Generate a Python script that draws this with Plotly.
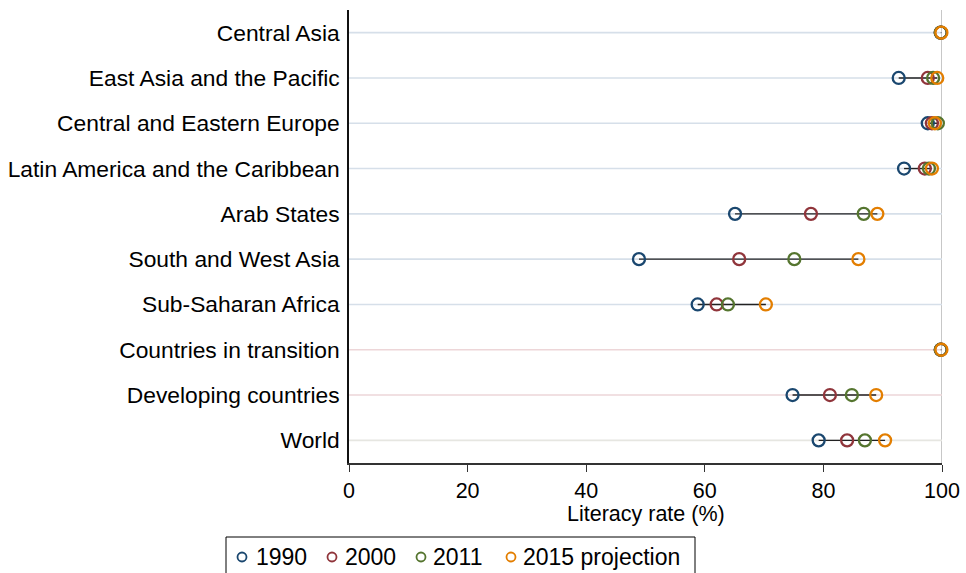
import plotly.graph_objects as go

categories = ["Central Asia", "East Asia and the Pacific", "Central and Eastern Europe",
              "Latin America and the Caribbean", "Arab States", "South and West Asia",
              "Sub-Saharan Africa", "Countries in transition", "Developing countries", "World"]
y1990 = [99.8, 92.7, 97.6, 93.6, 65.1, 48.9, 58.8, 99.8, 74.8, 79.2]
y2000 = [99.8, 97.6, 98.3, 97.1, 77.9, 65.8, 62.0, 99.8, 81.1, 84.0]
y2011 = [99.8, 98.5, 99.3, 97.8, 86.8, 75.1, 63.9, 99.8, 84.8, 87.0]
y2015 = [99.9, 99.2, 98.8, 98.3, 89.1, 85.9, 70.3, 99.9, 88.9, 90.4]
group = ["region"] * 7 + ["aggregate", "aggregate", "world"]
series_names = ["1990", "2000", "2011", "2015 projection"]
x_ticks = [0, 20, 40, 60, 80, 100]
x_title = "Literacy rate (%)"

colors = ["#1a476f", "#90353b", "#55752f", "#e37e00"]
grid_colors = {"region": "#d6dfe9", "aggregate": "#edd6d8", "world": "#e6e6e1"}
FONT = "Liberation Sans, Arial, sans-serif"

W, H = 966, 573
ML, MR, MT, MB = 349, 24, 10, 110
PW, PH = W - ML - MR, H - MT - MB


def px_x(p):
    return (p - ML) / PW


def px_y(p):
    return (H - MB - p) / PH


fig = go.Figure()

# horizontal gridlines per category
for cat, g in zip(categories, group):
    fig.add_trace(go.Scatter(x=[x_ticks[0], x_ticks[-1]], y=[cat, cat], mode="lines",
                             line=dict(color=grid_colors[g], width=1.6),
                             showlegend=False, hoverinfo="skip"))

# range lines
all_vals = [y1990, y2000, y2011, y2015]
for i, cat in enumerate(categories):
    vals = [s[i] for s in all_vals]
    fig.add_trace(go.Scatter(x=[min(vals), max(vals)], y=[cat, cat], mode="lines",
                             line=dict(color="#222222", width=1.4),
                             showlegend=False, hoverinfo="skip"))

# markers
for name, vals, c in zip(series_names, all_vals, colors):
    fig.add_trace(go.Scatter(x=vals, y=categories, mode="markers", name=name,
                             marker=dict(symbol="circle-open", size=12, color=c,
                                         line=dict(width=2.3, color=c)),
                             showlegend=False, cliponaxis=False))

fig.add_shape(type="line", xref="x", yref="paper", x0=100, x1=100, y0=0, y1=1,
              line=dict(color="#b4b4b4", width=1.5), layer="below")

# x-axis title
fig.add_annotation(text=x_title, xref="paper", yref="paper", x=0.5, y=px_y(514),
                   xanchor="center", yanchor="middle", showarrow=False,
                   font=dict(size=21.5, family=FONT, color="black"))

# custom legend (box, symbols, labels)
leg_box = (226, 537, 695, 590)
leg_marker_px = [242, 332, 421, 511]
leg_text_px = [254, 343, 431, 521]
leg_cy = 557
fig.add_shape(type="rect", xref="paper", yref="paper",
              x0=px_x(leg_box[0]), x1=px_x(leg_box[2]),
              y0=px_y(leg_box[3]), y1=px_y(leg_box[1]),
              line=dict(color="black", width=1), fillcolor="white")
for name, c, mx, tx in zip(series_names, colors, leg_marker_px, leg_text_px):
    fig.add_shape(type="circle", xref="paper", yref="paper",
                  xsizemode="pixel", ysizemode="pixel",
                  xanchor=px_x(mx), yanchor=px_y(leg_cy),
                  x0=-4.5, x1=4.5, y0=-4.5, y1=4.5,
                  line=dict(color=c, width=1.8))
    fig.add_annotation(text=name, xref="paper", yref="paper",
                       x=px_x(tx), y=px_y(leg_cy), xanchor="left", yanchor="middle",
                       showarrow=False, font=dict(size=23, family=FONT, color="black"))

fig.update_layout(
    width=W, height=H,
    margin=dict(l=ML, r=MR, t=MT, b=MB, autoexpand=False),
    paper_bgcolor="white", plot_bgcolor="white",
    font=dict(family=FONT, color="black"),
    showlegend=False,
    xaxis=dict(range=[0, 100], tickvals=x_ticks, ticks="outside", ticklen=7,
               tickwidth=1.2, tickcolor="#333333", showgrid=False, zeroline=False,
               showline=True, linecolor="#333333", linewidth=1.5, automargin=False,
               tickfont=dict(size=21.5)),
    yaxis=dict(type="category", categoryorder="array",
               categoryarray=categories[::-1], range=[-0.5, 9.5], automargin=False,
               showgrid=False, zeroline=False, showline=True, linecolor="#111111",
               linewidth=1.5, ticks="", ticklabelstandoff=3, tickfont=dict(size=22.8)),
)

fig.write_html("out.html", config={"displayModeBar": False},
               post_script="document.body.style.margin='0';")
